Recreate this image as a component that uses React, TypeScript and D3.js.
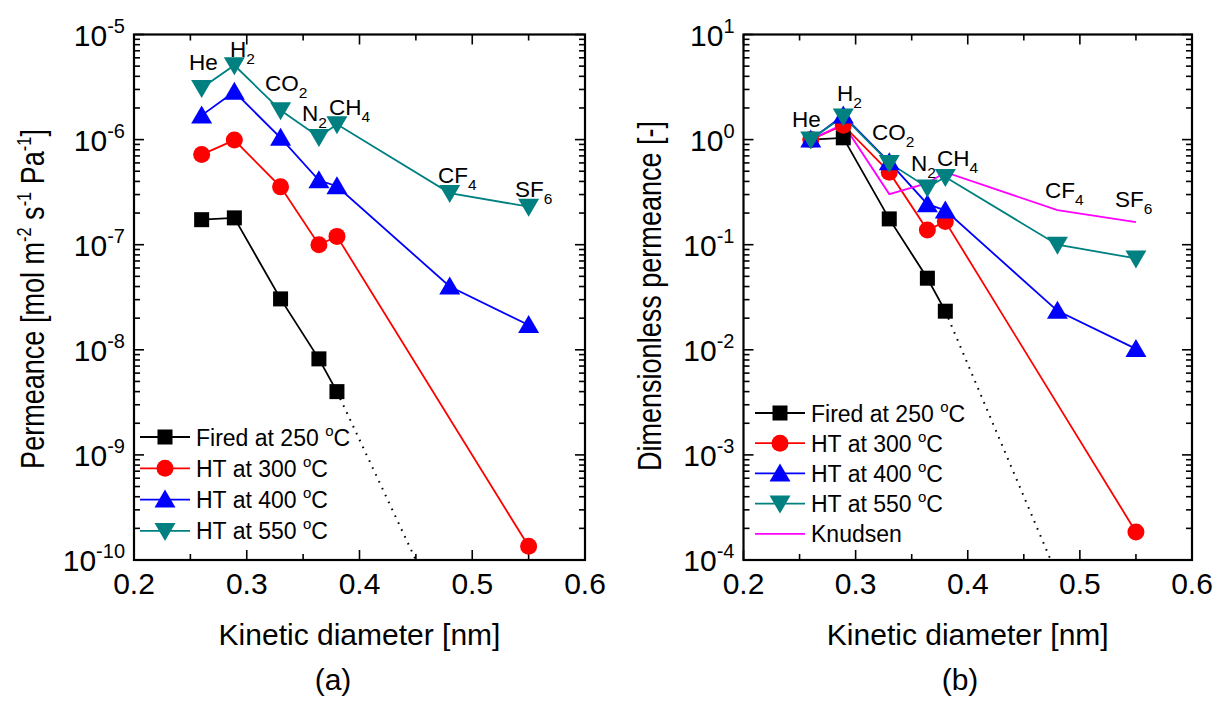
import React from "react";
import * as d3 from "d3";

// Gases and their kinetic diameters [nm]
const gases = ["He", "H2", "CO2", "N2", "CH4", "CF4", "SF6"];
const kineticDiameter = [0.26, 0.289, 0.33, 0.364, 0.38, 0.48, 0.55];

// (a) Single-gas permeance [mol m-2 s-1 Pa-1]; null = not measured
const permFired250 = [1.73e-7, 1.8e-7, 3.05e-8, 8.2e-9, 4.0e-9, null, null];
const permHT300 = [7.2e-7, 9.9e-7, 3.55e-7, 1.0e-7, 1.2e-7, null, 1.35e-10];
const permHT400 = [1.7e-6, 2.85e-6, 1.04e-6, 4.1e-7, 3.6e-7, 4.0e-8, 1.72e-8];
const permHT550 = [3.1e-6, 5.1e-6, 1.9e-6, 1.06e-6, 1.4e-6, 3.1e-7, 2.3e-7];

// (b) Permeance normalised by He permeance [-]
const dimFired250 = [1.0, 1.04, 0.176, 0.048, 0.0233, null, null];
const dimHT300 = [1.0, 1.37, 0.49, 0.138, 0.166, null, 1.85e-4];
const dimHT400 = [1.0, 1.7, 0.61, 0.243, 0.212, 0.0235, 0.0102];
const dimHT550 = [1.0, 1.66, 0.6, 0.35, 0.44, 0.1, 0.074];
const dimKnudsen = [1.0, 1.4, 0.303, 0.385, 0.49, 0.213, 0.164];

// Dotted extrapolation of the 250 °C series beyond CH4
const extrapXA = [0.38, 0.45];
const extrapYA = [4.0e-9, 1.0e-10];
const extrapXB = [0.38, 0.474];
const extrapYB = [0.0233, 1.0e-4];

// Axis ticks
const xTicks = [0.2, 0.3, 0.4, 0.5, 0.6];
const xMinorTicks = [0.25, 0.35, 0.45, 0.55];
const yExpA = [-10, -9, -8, -7, -6, -5];
const yExpB = [-4, -3, -2, -1, 0, 1];

const seriesNames = ["Fired at 250", "HT at 300", "HT at 400", "HT at 550"];

const FONT = "'Liberation Sans', Arial, Helvetica, sans-serif";

type Shape = "square" | "circle" | "up" | "down" | "none";

interface Series {
  name: string;
  values: (number | null)[];
  color: string;
  shape: Shape;
}

function Marker({ shape, x, y, color }: { shape: Shape; x: number; y: number; color: string }) {
  if (shape === "square") return <rect x={x - 7.5} y={y - 7.5} width={15} height={15} fill={color} />;
  if (shape === "circle") return <circle cx={x} cy={y} r={8.5} fill={color} />;
  if (shape === "up") return <path d={`M${x},${y - 10}L${x + 10.5},${y + 8}L${x - 10.5},${y + 8}Z`} fill={color} />;
  if (shape === "down") return <path d={`M${x},${y + 10}L${x + 10.5},${y - 8}L${x - 10.5},${y - 8}Z`} fill={color} />;
  return null;
}

function GasLabel({ name, x, y }: { name: string; x: number; y: number }) {
  const m = name.match(/^(.*?)(\d*)$/);
  const base = m ? m[1] : name;
  const sub = m ? m[2] : "";
  return (
    <text x={x} y={y} fontSize={22.5} fontFamily={FONT} fill="#000">
      <tspan>{base}</tspan>
      {sub && (
        <tspan dy={7} fontSize={15.5}>
          {sub}
        </tspan>
      )}
    </text>
  );
}

interface PanelProps {
  id: string;
  x0: number;
  x1: number;
  yExp: number[];
  series: Series[];
  extrapX: number[];
  extrapY: number[];
  labelPos: [number, number][];
  legendX: number;
  legendY: number;
  legendStep: number;
  yTitle: React.ReactNode;
  yTitleX: number;
  yTitleY: number;
  panelLabel: string;
  panelLabelX: number;
}

function Panel(p: PanelProps) {
  const top = 34.5;
  const bottom = 560;
  const x = d3.scaleLinear().domain([0.2, 0.6]).range([p.x0, p.x1]);
  const y = d3
    .scaleLog()
    .domain([Math.pow(10, p.yExp[0]), Math.pow(10, p.yExp[p.yExp.length - 1])])
    .range([bottom, top]);

  const line = d3
    .line<[number, number | null]>()
    .defined((d) => d[1] !== null)
    .x((d) => x(d[0]))
    .y((d) => y(d[1] as number));

  const minorY: number[] = [];
  for (let i = 0; i < p.yExp.length - 1; i++) {
    for (let k = 2; k <= 9; k++) minorY.push(k * Math.pow(10, p.yExp[i]));
  }

  const clipId = `clip-${p.id}`;
  const cx = (p.x0 + p.x1) / 2;

  return (
    <g>
      <defs>
        <clipPath id={clipId}>
          <rect x={p.x0} y={top} width={p.x1 - p.x0} height={bottom - top} />
        </clipPath>
      </defs>

      {/* ticks, inward on all four sides */}
      <g stroke="#000" strokeWidth={1.6}>
        {xTicks.map((t) => (
          <g key={`xt${t}`}>
            <line x1={x(t)} x2={x(t)} y1={bottom} y2={bottom - 10} />
            <line x1={x(t)} x2={x(t)} y1={top} y2={top + 10} />
          </g>
        ))}
        {xMinorTicks.map((t) => (
          <g key={`xm${t}`}>
            <line x1={x(t)} x2={x(t)} y1={bottom} y2={bottom - 6} />
            <line x1={x(t)} x2={x(t)} y1={top} y2={top + 6} />
          </g>
        ))}
        {p.yExp.map((e) => (
          <g key={`yt${e}`}>
            <line x1={p.x0} x2={p.x0 + 10} y1={y(Math.pow(10, e))} y2={y(Math.pow(10, e))} />
            <line x1={p.x1} x2={p.x1 - 10} y1={y(Math.pow(10, e))} y2={y(Math.pow(10, e))} />
          </g>
        ))}
        {minorY.map((v, i) => (
          <g key={`ym${i}`}>
            <line x1={p.x0} x2={p.x0 + 6} y1={y(v)} y2={y(v)} />
            <line x1={p.x1} x2={p.x1 - 6} y1={y(v)} y2={y(v)} />
          </g>
        ))}
      </g>

      {/* frame */}
      <rect x={p.x0} y={top} width={p.x1 - p.x0} height={bottom - top} fill="none" stroke="#000" strokeWidth={2.2} />

      {/* tick labels */}
      <g fontFamily={FONT} fill="#000">
        {xTicks.map((t) => (
          <text key={`xl${t}`} x={x(t)} y={594} fontSize={30} textAnchor="middle">
            {t.toFixed(1)}
          </text>
        ))}
        {p.yExp.map((e) => (
          <text key={`yl${e}`} x={p.x0 - 9} y={y(Math.pow(10, e)) + 11} fontSize={30} textAnchor="end">
            <tspan>10</tspan>
            <tspan dy={-13} fontSize={20}>
              {e < 0 ? `-${-e}` : `${e}`}
            </tspan>
          </text>
        ))}
      </g>

      {/* axis titles */}
      <text x={cx} y={645} fontSize={30} fontFamily={FONT} textAnchor="middle">
        Kinetic diameter [nm]
      </text>
      <text
        transform={`translate(${p.yTitleX},${p.yTitleY}) rotate(-90) scale(0.82,1)`}
        fontSize={33}
        fontFamily={FONT}
        textAnchor="middle"
      >
        {p.yTitle}
      </text>
      <text x={p.panelLabelX} y={690} fontSize={30} fontFamily={FONT} textAnchor="middle">
        {p.panelLabel}
      </text>

      {/* dotted extrapolation and series lines */}
      <g clipPath={`url(#${clipId})`}>
        <path
          d={line(p.extrapX.map((v, i) => [v, p.extrapY[i]] as [number, number]))!}
          fill="none"
          stroke="#000"
          strokeWidth={2}
          strokeDasharray="1.6 6"
        />
        {p.series.map((s) => (
          <path
            key={`l-${s.name}`}
            d={line(
              kineticDiameter
                .map((d, i) => [d, s.values[i]] as [number, number | null])
                .filter((d) => d[1] !== null)
            )!}
            fill="none"
            stroke={s.color}
            strokeWidth={1.8}
          />
        ))}
      </g>

      {/* markers */}
      {p.series.map((s) => (
        <g key={`m-${s.name}`}>
          {kineticDiameter.map((d, i) =>
            s.values[i] !== null ? (
              <Marker key={i} shape={s.shape} x={x(d)} y={y(s.values[i] as number)} color={s.color} />
            ) : null
          )}
        </g>
      ))}

      {/* gas names */}
      {gases.map((g, i) => (
        <GasLabel key={g} name={g} x={p.labelPos[i][0]} y={p.labelPos[i][1]} />
      ))}

      {/* legend */}
      {p.series.map((s, i) => {
        const ly = p.legendY + i * p.legendStep;
        return (
          <g key={`lg-${s.name}`}>
            <line x1={p.legendX} x2={p.legendX + 50} y1={ly} y2={ly} stroke={s.color} strokeWidth={1.8} />
            <Marker shape={s.shape} x={p.legendX + 25} y={ly} color={s.color} />
            <text x={p.legendX + 56} y={ly + 8.5} fontSize={23} fontFamily={FONT}>
              {s.shape === "none" ? (
                s.name
              ) : (
                <>
                  <tspan>{s.name} </tspan>
                  <tspan dy={-10} fontSize={15}>
                    o
                  </tspan>
                  <tspan dy={10}>C</tspan>
                </>
              )}
            </text>
          </g>
        );
      })}
    </g>
  );
}

const colors = ["#000000", "#ff0000", "#0000ff", "#008080"];
const shapes: Shape[] = ["square", "circle", "up", "down"];

const seriesA: Series[] = [permFired250, permHT300, permHT400, permHT550].map((v, i) => ({
  name: seriesNames[i],
  values: v,
  color: colors[i],
  shape: shapes[i],
}));

const seriesB: Series[] = [
  ...[dimFired250, dimHT300, dimHT400, dimHT550].map((v, i) => ({
    name: seriesNames[i],
    values: v,
    color: colors[i],
    shape: shapes[i],
  })),
  { name: "Knudsen", values: dimKnudsen, color: "#ff00ff", shape: "none" as Shape },
];

const labelPosA: [number, number][] = [
  [189, 70],
  [230, 57],
  [265, 91],
  [302, 121],
  [329, 115],
  [438, 183],
  [515, 197],
];
const labelPosB: [number, number][] = [
  [792, 127],
  [837, 101],
  [872, 140],
  [911, 171],
  [937, 166],
  [1045, 198],
  [1115, 207],
];

const supStyle = { fontSize: 20 };

export default function App() {
  return (
    <svg
      width={1218}
      height={702}
      viewBox="0 0 1218 702"
      style={{ position: "absolute", left: 0, top: 0, background: "#fff" }}
    >
      <rect width={1218} height={702} fill="#fff" />
      <Panel
        id="a"
        x0={134}
        x1={585}
        yExp={yExpA}
        series={seriesA}
        extrapX={extrapXA}
        extrapY={extrapYA}
        labelPos={labelPosA}
        legendX={140}
        legendY={437}
        legendStep={31.3}
        yTitleX={44}
        yTitleY={299}
        yTitle={
          <>
            <tspan>Permeance [mol m</tspan>
            <tspan dy={-13} {...supStyle}>-2</tspan>
            <tspan dy={13}> s</tspan>
            <tspan dy={-13} {...supStyle}>-1</tspan>
            <tspan dy={13}> Pa</tspan>
            <tspan dy={-13} {...supStyle}>-1</tspan>
            <tspan dy={13}>]</tspan>
          </>
        }
        panelLabel="(a)"
        panelLabelX={333}
      />
      <Panel
        id="b"
        x0={743.5}
        x1={1192}
        yExp={yExpB}
        series={seriesB}
        extrapX={extrapXB}
        extrapY={extrapYB}
        labelPos={labelPosB}
        legendX={755}
        legendY={413}
        legendStep={30.2}
        yTitleX={661}
        yTitleY={296}
        yTitle={<tspan>Dimensionless permeance [-]</tspan>}
        panelLabel="(b)"
        panelLabelX={960}
      />
    </svg>
  );
}
